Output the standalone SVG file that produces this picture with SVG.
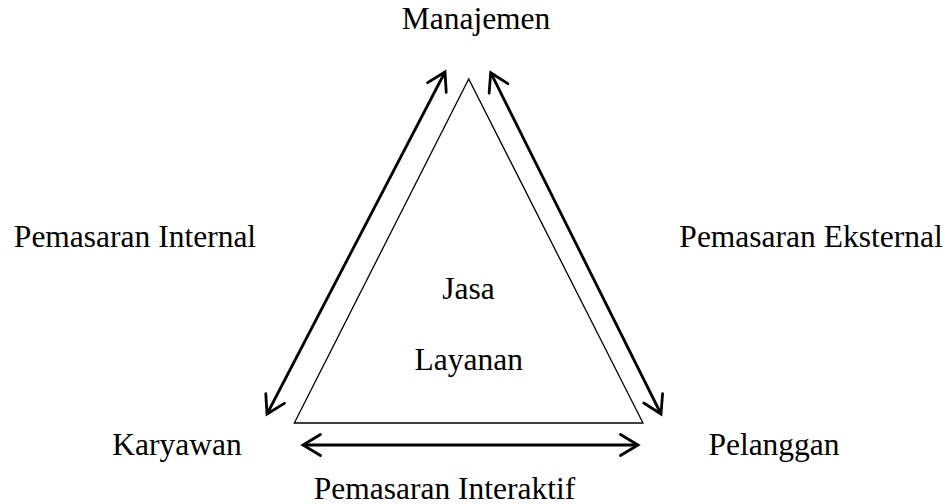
<svg xmlns="http://www.w3.org/2000/svg" width="950" height="504" viewBox="0 0 950 504">
<style>
text{font-family:"Liberation Serif","Times New Roman",serif;font-size:31.5px;fill:#000}
.tri{fill:none;stroke:#000;stroke-width:1.3}
.arr{fill:none;stroke:#000;stroke-width:2.8;marker-start:url(#ah);marker-end:url(#ah)}
</style>
<defs>
<marker id="ah" markerUnits="userSpaceOnUse" viewBox="-22 -14 26 28" markerWidth="26" markerHeight="28" refX="0" refY="0" orient="auto-start-reverse" overflow="visible">
<path d="M-17.5,-10.5 L0,0 L-17.5,10.5" fill="none" stroke="#000" stroke-width="2.8" stroke-linecap="round" stroke-linejoin="miter"/>
</marker>
</defs>
<rect width="950" height="504" fill="#fff"/>
<g id="service">
<polygon class="tri" points="468.7,79 294.3,423 643,423"/>
<text x="468.5" y="299" text-anchor="middle">Jasa</text>
<text x="468.8" y="370" text-anchor="middle">Layanan</text>
</g>
<g id="manajemen"><text x="476" y="28.5" text-anchor="middle">Manajemen</text></g>
<g id="karyawan"><text x="177" y="454.5" text-anchor="middle">Karyawan</text></g>
<g id="pelanggan"><text x="774" y="455" text-anchor="middle">Pelanggan</text></g>
<g id="connectors">
<line class="arr" x1="267" y1="414" x2="445" y2="72"/>
<line class="arr" x1="661" y1="414" x2="490.7" y2="72.7"/>
<line class="arr" x1="303" y1="445" x2="638" y2="445"/>
</g>
<g id="labels">
<text x="135" y="246.7" text-anchor="middle">Pemasaran Internal</text>
<text x="811" y="246.7" text-anchor="middle">Pemasaran Eksternal</text>
<text x="444.5" y="498.5" text-anchor="middle">Pemasaran Interaktif</text>
</g>
</svg>
